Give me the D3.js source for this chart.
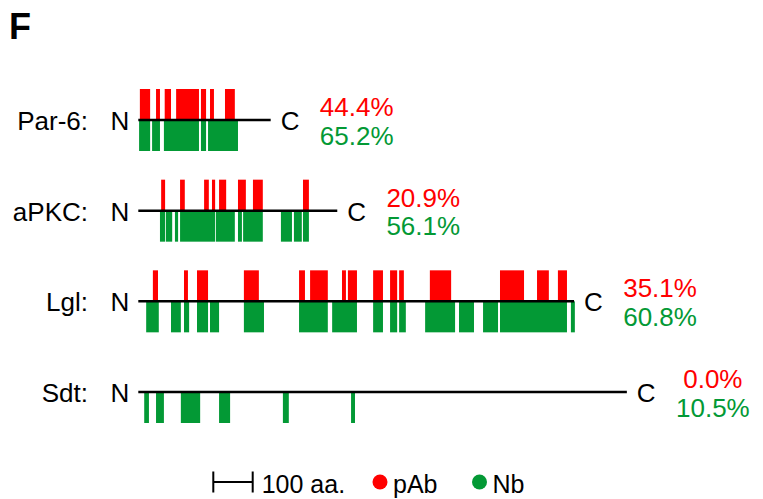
<!DOCTYPE html>
<html>
<head>
<meta charset="utf-8">
<script src="https://cdn.jsdelivr.net/npm/d3@7"></script>
<style>
  body { margin: 0; background: #fff; }
  svg { display: block; font-family: "Liberation Sans", Arial, Helvetica, sans-serif; }
</style>
</head>
<body>
<div id="chart"></div>
<script>
// {{{ data (positions in amino acids)
var PROTEINS = ["Par-6", "aPKC", "Lgl", "Sdt"];
var LENGTHS = [336, 505, 1106, 1240];
var PAB_PCT = ["44.4%", "20.9%", "35.1%", "0.0%"];
var NB_PCT = ["65.2%", "56.1%", "60.8%", "10.5%"];

// regions covered by peptides, [start, end]
var PAB_REGIONS = [
  [[4, 30], [45, 55], [67, 83], [96, 154], [159, 172], [182, 192], [220, 245]],
  [[58, 68], [106, 118], [167, 179], [187, 195], [205, 223], [253, 273], [291, 316], [418, 433]],
  [[37, 50], [116, 126], [149, 177], [268, 306], [408, 423], [436, 481], [517, 527], [532, 555],
   [596, 621], [639, 657], [662, 674], [740, 794], [918, 979], [1012, 1042], [1065, 1088]],
  []
];
var NB_REGIONS = [
  [[2, 30], [35, 55], [65, 154], [159, 172], [177, 253]],
  [[55, 68], [70, 86], [93, 101], [106, 195], [197, 245], [253, 263], [266, 316], [362, 390],
   [395, 415], [418, 433]],
  [[20, 52], [83, 108], [116, 129], [149, 177], [182, 205], [268, 319], [408, 481], [492, 555],
   [596, 621], [639, 657], [662, 679], [728, 804], [814, 852], [875, 913], [918, 1088], [1098, 1108]],
  [[15, 27], [45, 65], [108, 157], [205, 233], [367, 382], [540, 550]]
];
var SCALE_AA = 100;
var LEGEND = [["pAb", "#ff0000"], ["Nb", "#039935"]];
// }}}

var RED = "#ff0000";
var GREEN = "#039935";
var W = 763, H = 499;
var FONT = 26;
var BAR_H = 31;

var svg = d3.select("#chart").append("svg")
  .attr("width", W)
  .attr("height", H);

// aa -> px
var x = d3.scaleLinear().domain([0, 100]).range([138.3, 177.7]);
// one row per protein
var y = d3.scalePoint().domain(PROTEINS).range([120, 392]);

svg.append("text")
  .attr("x", 9)
  .attr("y", 39)
  .attr("font-size", 36)
  .attr("font-weight", "bold")
  .text("F");

// {{{ rows
var rows = svg.selectAll("g.row")
  .data(PROTEINS)
  .enter()
  .append("g")
  .attr("class", "row")
  .attr("transform", function(d) { return "translate(0," + y(d) + ")"; });

rows.each(function(name, i) {
  var g = d3.select(this);
  var end = x(LENGTHS[i]);

  g.selectAll("rect.pab")
    .data(PAB_REGIONS[i])
    .enter()
    .append("rect")
      .attr("x", function(r) { return x(r[0]); })
      .attr("width", function(r) { return x(r[1]) - x(r[0]); })
      .attr("y", -BAR_H)
      .attr("height", BAR_H)
      .attr("fill", RED);

  g.selectAll("rect.nb")
    .data(NB_REGIONS[i])
    .enter()
    .append("rect")
      .attr("x", function(r) { return x(r[0]); })
      .attr("width", function(r) { return x(r[1]) - x(r[0]); })
      .attr("y", 0)
      .attr("height", BAR_H)
      .attr("fill", GREEN);

  g.append("line")
    .attr("x1", x(0))
    .attr("x2", end)
    .attr("stroke", "#000")
    .attr("stroke-width", 2.5);

  g.append("text")
    .attr("x", 88)
    .attr("y", 10)
    .attr("text-anchor", "end")
    .attr("font-size", FONT)
    .text(name + ":");

  g.append("text")
    .attr("x", x(0) - 9)
    .attr("y", 10)
    .attr("text-anchor", "end")
    .attr("font-size", FONT)
    .text("N");

  g.append("text")
    .attr("x", end + 10)
    .attr("y", 10)
    .attr("font-size", FONT)
    .text("C");

  g.append("text")
    .attr("x", end + 86)
    .attr("y", -4)
    .attr("text-anchor", "middle")
    .attr("font-size", FONT)
    .attr("fill", RED)
    .text(PAB_PCT[i]);

  g.append("text")
    .attr("x", end + 86)
    .attr("y", 24.5)
    .attr("text-anchor", "middle")
    .attr("font-size", FONT)
    .attr("fill", GREEN)
    .text(NB_PCT[i]);
});
// }}}

// {{{ legend
var legend = svg.append("g").attr("transform", "translate(0,482)");
var x0 = 213.3, x1 = x0 + x(SCALE_AA) - x(0);

legend.append("path")
  .attr("d", "M" + x0 + ",-10.5V10.5M" + x0 + ",0H" + x1 + "M" + x1 + ",-10.5V10.5")
  .attr("fill", "none")
  .attr("stroke", "#000")
  .attr("stroke-width", 2);

legend.append("text")
  .attr("x", x1 + 9)
  .attr("y", 10.5)
  .attr("font-size", 25)
  .text(SCALE_AA + " aa.");

var LEG_X = [380, 479.5];
LEGEND.forEach(function(item, i) {
  legend.append("circle")
    .attr("cx", LEG_X[i])
    .attr("cy", 0)
    .attr("r", 7.5)
    .attr("fill", item[1]);
  legend.append("text")
    .attr("x", LEG_X[i] + 13)
    .attr("y", 10.5)
    .attr("font-size", 25)
    .text(item[0]);
});
// }}}
</script>
</body>
</html>
